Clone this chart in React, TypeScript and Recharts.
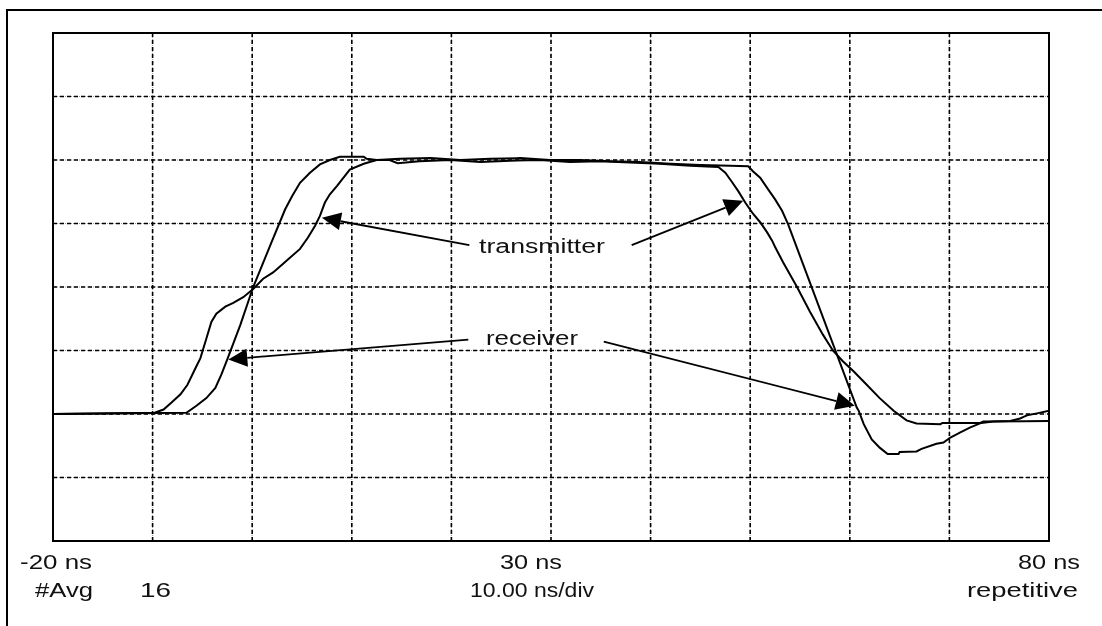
import React from 'react';
import { LineChart, Line, XAxis, YAxis, CartesianGrid, ReferenceLine } from 'recharts';

// time in ns, level in screen divisions (0 = bottom of the graticule, 8 = top)
const timeTicks = [-20, -10, 0, 10, 20, 30, 40, 50, 60, 70, 80];
const levelTicks = [0, 1, 2, 3, 4, 5, 6, 7, 8];

const transmitter: [number, number][] = [
  [-20, 2.0], [-9.8, 2.02], [-8.9, 2.07], [-8.1, 2.18], [-7.2, 2.31], [-6.5, 2.46], [-5.7, 2.72],
  [-5.2, 2.88], [-4.6, 3.19], [-4.1, 3.45], [-3.6, 3.58], [-2.7, 3.69], [-1.9, 3.75], [-0.9, 3.84],
  [0.1, 3.97], [1.1, 4.13], [2.1, 4.23], [3.5, 4.42], [4.8, 4.6], [5.6, 4.78], [6.3, 4.96],
  [6.8, 5.12], [7.3, 5.33], [7.8, 5.46], [8.5, 5.59], [9.8, 5.85], [11.2, 5.94], [12.5, 6.0],
  [13.8, 6.0], [14.6, 5.95], [16.8, 5.98], [19.9, 6.0], [22.9, 5.97], [25.9, 5.99], [28.9, 6.0],
  [31.9, 5.97], [34.9, 5.98], [37.9, 5.96], [40.9, 5.94], [44.0, 5.91], [46.8, 5.89], [47.5, 5.8],
  [48.1, 5.67], [48.8, 5.51], [49.5, 5.33], [50.3, 5.15], [51.0, 5.02], [51.7, 4.86], [52.2, 4.73],
  [52.5, 4.63], [53.3, 4.39], [54.7, 4.0], [56.0, 3.61], [57.3, 3.25], [58.3, 3.0], [59.3, 2.83],
  [60.4, 2.67], [61.7, 2.46], [63.0, 2.25], [64.4, 2.05], [65.7, 1.9], [66.7, 1.85], [69.1, 1.84],
  [69.3, 1.86], [73.1, 1.86], [73.4, 1.88], [80, 1.89],
];

const receiver: [number, number][] = [
  [-20, 2.0], [-6.6, 2.02], [-5.6, 2.13], [-4.6, 2.25], [-3.7, 2.41], [-3.1, 2.62], [-2.5, 2.86],
  [-1.2, 3.4], [0.1, 4.0], [1.8, 4.65], [3.3, 5.22], [4.0, 5.43], [4.8, 5.64], [5.8, 5.8],
  [6.8, 5.93], [7.8, 6.0], [8.8, 6.05], [11.2, 6.05], [11.5, 6.02], [12.5, 6.0], [14.8, 6.02],
  [17.9, 6.03], [20.9, 6.0], [23.9, 6.02], [26.9, 6.03], [29.9, 6.0], [32.9, 6.0], [35.9, 5.98],
  [38.9, 5.97], [42.0, 5.94], [45.0, 5.92], [48.0, 5.91], [49.8, 5.9], [50.3, 5.82], [51.0, 5.72],
  [51.7, 5.56], [52.5, 5.38], [53.2, 5.2], [53.8, 4.99], [60.7, 2.1], [60.9, 2.05], [61.4, 1.84],
  [62.2, 1.6], [63.0, 1.47], [63.8, 1.37], [64.9, 1.37], [65.0, 1.4], [66.7, 1.41], [67.2, 1.45],
  [68.7, 1.53], [69.4, 1.55], [70.1, 1.63], [71.1, 1.71], [72.1, 1.79], [73.2, 1.86], [74.4, 1.88],
  [76.1, 1.89], [77.1, 1.93], [77.8, 1.98], [78.8, 2.01], [80, 2.05],
];

// annotation arrows: [start, tip] in ns / divisions
const transmitterArrows: [number, number][][] = [
  [[21.8, 4.66], [7.0, 5.09]],
  [[38.1, 4.66], [49.3, 5.36]],
];
const receiverArrows: [number, number][][] = [
  [[21.7, 3.17], [-2.4, 2.86]],
  [[35.3, 3.14], [60.5, 2.13]],
];

const FONT = '"Liberation Sans", Arial, sans-serif';

const toRows = (pts: [number, number][]) => pts.map(([t, v]) => ({ t, v }));

const Arrow = (p: any) => {
  const { x1, y1, x2, y2 } = p;
  const dx = x2 - x1;
  const dy = y2 - y1;
  const len = Math.hypot(dx, dy) || 1;
  const ux = dx / len;
  const uy = dy / len;
  const bx = x2 - ux * 19;
  const by = y2 - uy * 19;
  const nx = -uy * 9;
  const ny = ux * 9;
  return (
    <g>
      <line x1={x1} y1={y1} x2={bx} y2={by} stroke="#000" strokeWidth={1.8} />
      <polygon points={`${x2},${y2} ${bx + nx},${by + ny} ${bx - nx},${by - ny}`} fill="#000" />
    </g>
  );
};

// scope readout text, page pixel positions
const readout = [
  { text: '-20 ns', x: 20, y: 569, w: 72 },
  { text: '30 ns', x: 500, y: 569, w: 62 },
  { text: '80 ns', x: 1018, y: 569, w: 62 },
  { text: '#Avg', x: 35, y: 597, w: 58 },
  { text: '16', x: 140, y: 597, w: 31 },
  { text: '10.00 ns/div', x: 470, y: 597, w: 124 },
  { text: 'repetitive', x: 967, y: 597, w: 111 },
  { text: 'transmitter', x: 479, y: 253, w: 126 },
  { text: 'receiver', x: 486, y: 345, w: 92 },
];

export default function App() {
  const arrows = [...transmitterArrows, ...receiverArrows];
  return (
    <div style={{ position: 'relative', width: 1086, height: 610 }}>
      {/* outer frame of the scope print */}
      <div
        style={{
          position: 'fixed',
          left: 6,
          top: 9,
          width: 1096,
          height: 617,
          boxSizing: 'border-box',
          borderLeft: '2px solid #000',
          borderTop: '2px solid #000',
          pointerEvents: 'none',
        }}
      />
      <LineChart width={1086} height={600} margin={{ top: 25, right: 45, bottom: 67, left: 45 }}>
        <XAxis type="number" dataKey="t" domain={[-20, 80]} ticks={timeTicks} hide allowDataOverflow />
        <YAxis type="number" domain={[0, 8]} ticks={levelTicks} hide allowDataOverflow />
        <CartesianGrid stroke="#999" strokeDasharray="1 1" strokeWidth={1} />
        <CartesianGrid stroke="#000" strokeDasharray="4 3" strokeWidth={1.6} />
        {arrows.map((seg, i) => (
          <ReferenceLine
            key={`arrow-${i}`}
            segment={[{ x: seg[0][0], y: seg[0][1] }, { x: seg[1][0], y: seg[1][1] }]}
            ifOverflow="visible"
            shape={Arrow}
          />
        ))}
        <Line
          data={toRows(transmitter)}
          dataKey="v"
          type="linear"
          stroke="#000"
          strokeWidth={2}
          dot={false}
          activeDot={false}
          isAnimationActive={false}
        />
        <Line
          data={toRows(receiver)}
          dataKey="v"
          type="linear"
          stroke="#000"
          strokeWidth={2}
          dot={false}
          activeDot={false}
          isAnimationActive={false}
        />
      </LineChart>
      <svg
        width={1086}
        height={610}
        style={{ position: 'absolute', left: 0, top: 0, overflow: 'visible', pointerEvents: 'none' }}
      >
        <g transform="translate(-8 -8)">
          <rect x={53} y={33} width={996} height={508} fill="none" stroke="#000" strokeWidth={2} />
          {readout.map((r) => (
            <text
              key={r.text}
              x={r.x}
              y={r.y}
              textLength={r.w}
              lengthAdjust="spacingAndGlyphs"
              fontFamily={FONT}
              fontSize={20}
              fill="#111"
            >
              {r.text}
            </text>
          ))}
        </g>
      </svg>
    </div>
  );
}
